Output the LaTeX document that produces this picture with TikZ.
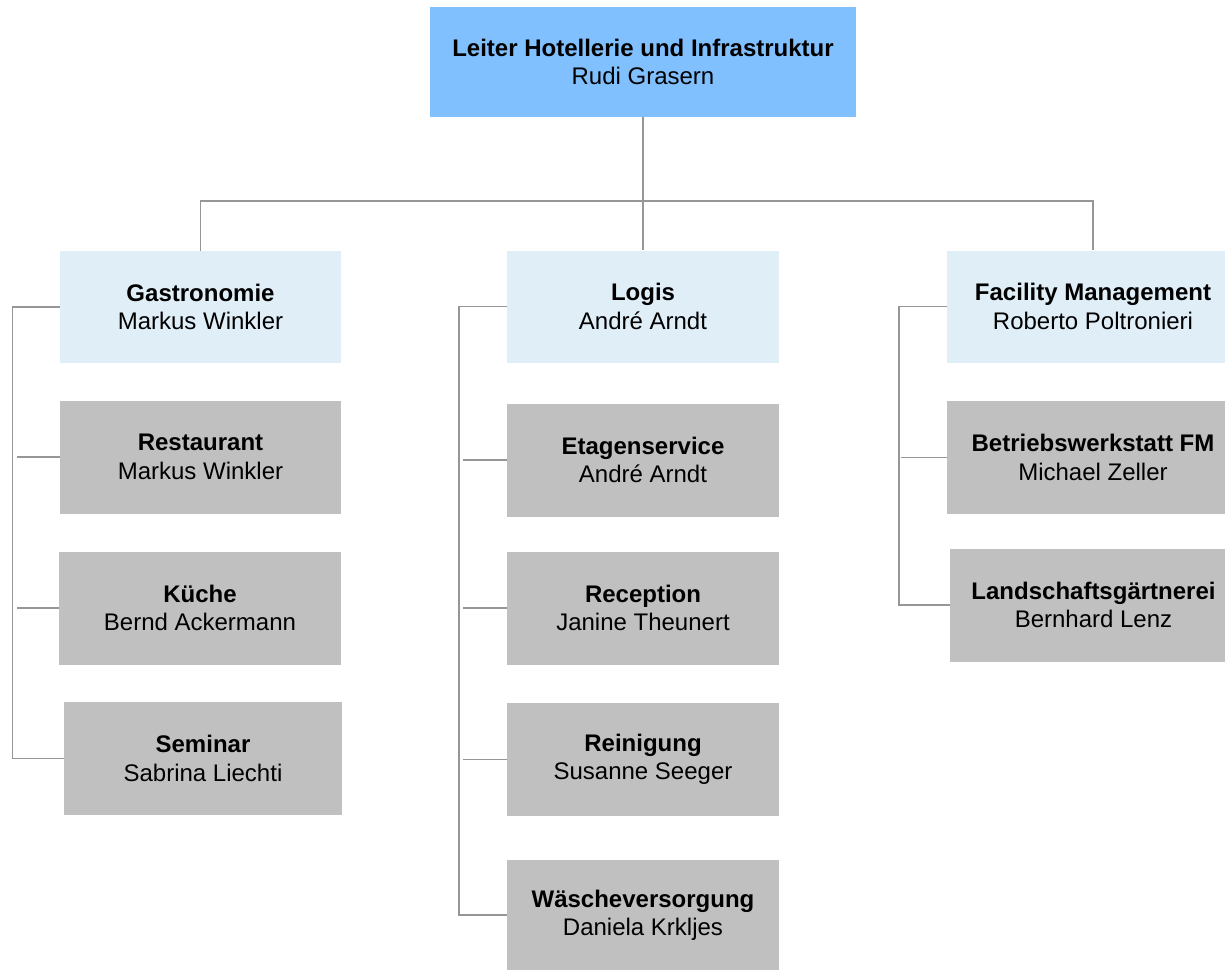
\documentclass[tikz,border=0pt]{standalone}
\usepackage{fontspec}
\setmainfont{Liberation Sans}
\usetikzlibrary{positioning,calc}
\definecolor{chiefblue}{RGB}{128,192,255}
\definecolor{deptblue}{RGB}{224,238,248}
\definecolor{unitgray}{RGB}{192,192,192}
\definecolor{linegray}{RGB}{150,150,150}

\begin{document}
\begin{tikzpicture}[x=0.5pt, y=-0.5pt,
  every node/.style={font=\fontsize{12}{14.2}\selectfont, align=center, inner sep=0pt},
  chief/.style={fill=chiefblue, minimum width=213pt, minimum height=55pt},
  dept/.style={fill=deptblue, minimum height=56pt},
  unit/.style={fill=unitgray, minimum height=56.5pt},
  link/.style={draw=linegray, line width=0.8pt}]
\useasboundingbox (0,0) rectangle (1225,970);

% Leitung
\node[chief] (leiter) at (643,62) {\textbf{Leiter Hotellerie und Infrastruktur}\\Rudi Grasern};

% Abteilungen
\node[dept, minimum width=140.5pt] (gastro) at (200.5,307) {\textbf{Gastronomie}\\Markus Winkler};
\node[dept, minimum width=136pt] (logis) at (643,306.5) {\textbf{Logis}\\André Arndt};
\node[dept, minimum width=146pt] (facility) at (1093,306.5) {\textbf{Facility Management}\\Roberto Poltronieri};

% Gastronomie
\node[unit, minimum width=140.5pt] (restaurant) at (200.5,457) {\textbf{Restaurant}\\Markus Winkler};
\node[unit, minimum width=141pt] (kueche) at (200,608) {\textbf{Küche}\\Bernd Ackermann};
\node[unit, minimum width=139pt] (seminar) at (203,758.5) {\textbf{Seminar}\\Sabrina Liechti};

% Logis
\node[unit, minimum width=136pt] (etagen) at (643,460) {\textbf{Etagenservice}\\André Arndt};
\node[unit, minimum width=136pt] (reception) at (643,608) {\textbf{Reception}\\Janine Theunert};
\node[unit, minimum width=136pt] (reinigung) at (643,759.5) {\textbf{Reinigung}\\Susanne Seeger};
\node[unit, minimum width=136pt, minimum height=55pt] (waesche) at (643,915) {\textbf{Wäscheversorgung}\\Daniela Krkljes};

% Facility Management
\node[unit, minimum width=146pt] (werkstatt) at (1093,457.5) {\textbf{Betriebswerkstatt FM}\\Michael Zeller};
\node[unit, minimum width=143.5pt] (garten) at (1093.5,605) {\textbf{Landschaftsgärtnerei}\\Bernhard Lenz};

% Verbindungen oben
\coordinate (bus) at (643,201);
\draw[link] (leiter.south) -- (bus);
\draw[link] (bus) -| (gastro.north);
\draw[link] (bus) -- (logis.north);
\draw[link] (bus) -| (facility.north);

% Gastronomie Linien
\coordinate (gtrunk) at (12.5,307);
\draw[link] (gastro.west) -- (gtrunk) |- (seminar.west);
\draw[link] (restaurant.west) -- ([xshift=2pt]restaurant.west -| gtrunk);
\draw[link] (kueche.west) -- ([xshift=2pt]kueche.west -| gtrunk);

% Logis Linien
\coordinate (ltrunk) at (459,306.5);
\draw[link] (logis.west) -- (ltrunk) |- (waesche.west);
\draw[link] (etagen.west) -- ([xshift=2pt]etagen.west -| ltrunk);
\draw[link] (reception.west) -- ([xshift=2pt]reception.west -| ltrunk);
\draw[link] (reinigung.west) -- ([xshift=2pt]reinigung.west -| ltrunk);

% Facility Linien
\coordinate (ftrunk) at (899,306.5);
\draw[link] (facility.west) -- (ftrunk) |- (garten.west);
\draw[link] (werkstatt.west) -- ([xshift=1pt]werkstatt.west -| ftrunk);
\end{tikzpicture}
\end{document}
